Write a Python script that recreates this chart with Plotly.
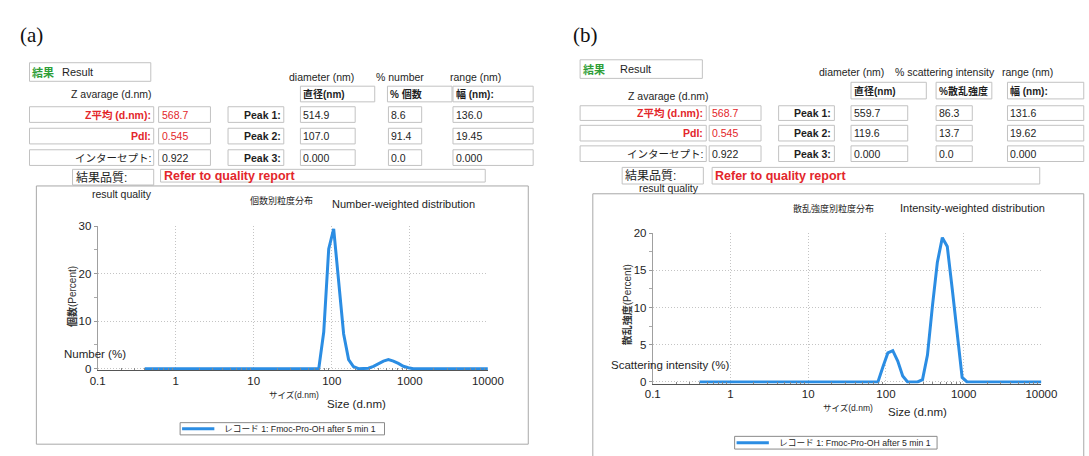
import plotly.graph_objects as go

# ---------------- data ----------------
size_a = [0.4, 68.06, 78.82, 91.28, 105.7, 122.4, 141.8, 164.2, 190.1, 220.2, 255.0,
          295.3, 342.0, 396.1, 458.7, 531.2, 615.1, 712.4, 825.0, 955.4, 1106, 10000]
number_pct = [0, 0, 7.7, 25.2, 29.4, 18.8, 7.3, 1.9, 0.4, 0, 0,
              0.1, 0.5, 1.1, 1.6, 1.9, 1.6, 1.1, 0.5, 0.2, 0, 0]

size_b = [0.4, 78.82, 91.28, 105.7, 122.4, 141.8, 164.2, 190.1, 220.2, 255.0,
          295.3, 342.0, 396.1, 458.7, 531.2, 615.1, 712.4, 825.0, 955.4, 1106, 10000]
intensity_pct = [0, 0, 2.0, 3.9, 4.2, 2.8, 0.8, 0, 0, 0,
                 0.3, 3.6, 10.2, 16.1, 19.4, 18.2, 12.5, 6.5, 0.6, 0, 0]

x_tick_vals = [0.1, 1, 10, 100, 1000, 10000]
x_tick_text = ["0.1", "1", "10", "100", "1000", "10000"]
y_ticks_a = [0, 10, 20, 30]
y_ticks_b = [0, 5, 10, 15, 20]

record_name = "レコード 1: Fmoc-Pro-OH after 5 min 1"

z_average = "568.7"
pdi = "0.545"
intercept = "0.922"
peak_labels = ["Peak 1:", "Peak 2:", "Peak 3:"]
peaks_a_diam = ["514.9", "107.0", "0.000"]
peaks_a_pct = ["8.6", "91.4", "0.0"]
peaks_a_range = ["136.0", "19.45", "0.000"]
peaks_b_diam = ["559.7", "119.6", "0.000"]
peaks_b_pct = ["86.3", "13.7", "0.0"]
peaks_b_range = ["131.6", "19.62", "0.000"]

# ---------------- helpers ----------------
W, H = 1089, 456
SANS = "Liberation Sans, Arial, Noto Sans CJK JP, sans-serif"
SERIF = "Liberation Serif, Times New Roman, serif"
RED = "#e3262b"
GREEN = "#2f9e38"
BLUE = "#2b8de3"
TXT = "#1e1e1e"


def px(x):
    return x / W


def py(y):
    return 1 - y / H


shapes = []
annotations = []


def box(x0, y0, x1, y1, color="#c2c2c2", width=1):
    shapes.append(dict(type="rect", xref="paper", yref="paper",
                       x0=px(x0), x1=px(x1), y0=py(y1), y1=py(y0),
                       line=dict(color=color, width=width),
                       fillcolor="rgba(0,0,0,0)", layer="below"))


def text(x, y, s, size=10.5, color=TXT, bold=False, anchor="left",
         family=SANS, angle=0):
    annotations.append(dict(x=px(x), y=py(y), xref="paper", yref="paper",
                            text=f"<b>{s}</b>" if bold else s, showarrow=False,
                            xanchor=anchor, yanchor="middle", textangle=angle,
                            borderpad=0,
                            font=dict(size=size, color=color, family=family)))


def legend_box(x0, y0, x1, y1, lx1, tx):
    shapes.append(dict(type="rect", xref="paper", yref="paper",
                       x0=px(x0), x1=px(x1), y0=py(y1), y1=py(y0),
                       line=dict(color="#8a8a8a", width=1), fillcolor="white",
                       layer="above"))
    ym = (y0 + y1) / 2
    shapes.append(dict(type="line", xref="paper", yref="paper",
                       x0=px(x0 + 2), x1=px(lx1), y0=py(ym), y1=py(ym),
                       line=dict(color=BLUE, width=3), layer="above"))
    text(tx, ym, record_name, size=8.7)


def table(g, diam, pct, rng, pct_header, col_heads):
    text(g["lab"][0], g["lab"][1], g["lab"][2], size=21, family=SERIF,
         anchor="center", color="#111")
    rx0, ry0, rx1, ry1 = g["result"]
    box(rx0, ry0, rx1, ry1)
    text(rx0 + 2, (ry0 + ry1) / 2, "結果", color=GREEN, size=11, bold=True)
    text(g["result_txt"], (ry0 + ry1) / 2, "Result", size=11)
    for (cx, s) in col_heads:
        text(cx, g["colhead_y"], s, size=10.5)
    text(g["zavg"][0], g["zavg"][1], "Z avarage (d.nm)", size=10.5)
    hy0, hy1 = g["head_y"]
    for (bx0, bx1), s in zip(g["head_boxes"], ["直径(nm)", pct_header, "幅 (nm):"]):
        box(bx0, hy0, bx1, hy1)
        text(bx0 + 2, (hy0 + hy1) / 2, s, size=10, bold=True)
    left_labels = [("Z平均 (d.nm):", RED, True), ("PdI:", RED, True),
                   ("インターセプト:", TXT, False)]
    left_vals = [(z_average, RED), (pdi, RED), (intercept, TXT)]
    c = g["cols"]
    for i, (y0, y1) in enumerate(g["rows"]):
        ym = (y0 + y1) / 2
        box(c["lab"][0], y0, c["lab"][1], y1)
        s, col, b = left_labels[i]
        text(c["lab"][1] - 2, ym, s, color=col, bold=b, anchor="right", size=10.5)
        box(c["val"][0], y0, c["val"][1], y1)
        text(c["val"][0] + 2, ym, left_vals[i][0], color=left_vals[i][1], size=10.5)
        box(c["peak"][0], y0, c["peak"][1], y1)
        text(c["peak"][1] - 2, ym, peak_labels[i], bold=True, anchor="right", size=10.5)
        box(c["diam"][0], y0, c["diam"][1], y1)
        text(c["diam"][0] + 2, ym, diam[i], size=10.5)
        box(c["pct"][0], y0, c["pct"][1], y1)
        text(c["pct"][0] + 2, ym, pct[i], size=10.5)
        box(c["rng"][0], y0, c["rng"][1], y1)
        text(c["rng"][0] + 2, ym, rng[i], size=10.5)
    q = g["qual"]
    box(q[0], q[1], q[2], q[3])
    text(q[0] + 2, (q[1] + q[3]) / 2, "結果品質:", size=12)
    r = g["refer"]
    box(r[0], r[1], r[2], r[3])
    text(r[0] + 2, (r[1] + r[3]) / 2, "Refer to quality report", color=RED,
         bold=True, size=12.5)
    text(g["rq"][0], g["rq"][1], "result quality", size=10.5)
    f = g["frame"]
    box(f[0], f[1], f[2], f[3], color="#a8a8a8")


geo_a = dict(
    lab=(24, 30, "(a)"),
    result=(22, 58, 146, 77), result_txt=54,
    colhead_y=73, zavg=(63, 90),
    head_y=(82, 98), head_boxes=[(299, 375), (388, 454), (455, 537)],
    rows=[(103, 119), (125, 141), (147, 163)],
    cols=dict(lab=(22, 149), val=(154, 207), peak=(225, 282), diam=(299, 355),
              pct=(389, 423), rng=(455, 537)),
    qual=(66, 167, 149, 183), refer=(156, 167, 488, 180),
    rq=(85, 192), frame=(29, 184, 532, 448),
)
geo_b = dict(
    lab=(591, 30, "(b)"),
    result=(585, 55, 710, 74), result_txt=625,
    colhead_y=67, zavg=(633, 92),
    head_y=(78, 95), head_boxes=[(862, 939), (949, 1006), (1022, 1100)],
    rows=[(102, 117), (122, 138), (143, 159)],
    cols=dict(lab=(585, 714), val=(717, 770), peak=(788, 845), diam=(862, 920),
              pct=(949, 986), rng=(1022, 1100)),
    qual=(628, 165, 711, 182), refer=(720, 165, 1055, 182),
    rq=(644, 186), frame=(598, 192, 1100, 470),
)

table(geo_a, peaks_a_diam, peaks_a_pct, peaks_a_range, "% 個数",
      [(286, "diameter (nm)"), (375, "% number"), (451, "range (nm)")])
table(geo_b, peaks_b_diam, peaks_b_pct, peaks_b_range, "%散乱強度",
      [(828, "diameter (nm)"), (906, "% scattering intensity"), (1015, "range (nm)")])

# chart texts (a)
text(246, 199, "個数別粒度分布", size=9)
text(330, 202, "Number-weighted distribution", size=11)
text(66, 297, "<b>個数</b>(Percent)", size=10, angle=-90, color="#333", anchor="center")
text(56, 356, "Number (%)", size=11.5)
text(266, 398, "サイズ(d.nm)", size=8.5)
text(325, 407, "Size (d.nm)", size=11.5)
# chart texts (b)
text(802, 207, "散乱強度別粒度分布", size=9)
text(911, 207, "Intensity-weighted distribution", size=11)
text(633, 306, "<b>散乱強度</b>(Percent)", size=10, angle=-90, color="#333", anchor="center")
text(616, 367, "Scattering intensity (%)", size=11.5)
text(832, 411, "サイズ(d.nm)", size=8.5)
text(899, 415, "Size (d.nm)", size=11.5)

legend_box(176, 426, 385, 438.5, 211, 220)
legend_box(743, 440, 950, 453, 778, 787)

# ---------------- figure ----------------
fig = go.Figure()
fig.add_trace(go.Scatter(x=size_a, y=number_pct, mode="lines", name=record_name,
                         line=dict(color=BLUE, width=3), xaxis="x", yaxis="y",
                         showlegend=False))
fig.add_trace(go.Scatter(x=size_b, y=intensity_pct, mode="lines", name=record_name,
                         line=dict(color=BLUE, width=3), xaxis="x2", yaxis="y2",
                         showlegend=False))

minor_x = [m * 10 ** e for e in range(-1, 4) for m in range(2, 10)]
GRID = "#c4c4c4"


def xaxis_cfg(domain, anchor):
    return dict(type="log", range=[-1, 4], domain=domain, anchor=anchor,
                tickvals=x_tick_vals, ticktext=x_tick_text, ticks="",
                showgrid=True, gridcolor=GRID, griddash="1px,2px", gridwidth=1,
                showline=True, linecolor="#555", linewidth=1, zeroline=False,
                tickfont=dict(size=11.5, family=SANS, color=TXT),
                minor=dict(ticks="inside", ticklen=2, tickcolor="#888",
                           tickmode="array", tickvals=minor_x, showgrid=False))


def yaxis_cfg(domain, anchor, rng, vals, minor_vals):
    return dict(range=rng, domain=domain, anchor=anchor, tickvals=vals,
                ticks="outside", ticklen=3, tickcolor="#999",
                showgrid=True, gridcolor=GRID, griddash="1px,2px", gridwidth=1,
                showline=True, linecolor="#a0a0a0", linewidth=1, zeroline=False,
                tickfont=dict(size=11.5, family=SANS, color=TXT),
                minor=dict(ticks="outside", ticklen=3, tickcolor="#aaa",
                           tickmode="array", tickvals=minor_vals, showgrid=False))


fig.update_layout(
    width=W, height=H, margin=dict(l=0, r=0, t=0, b=0),
    paper_bgcolor="white", plot_bgcolor="white",
    xaxis=xaxis_cfg([px(91.7), px(490.7)], "y"),
    yaxis=yaxis_cfg([py(372.5), py(225)], "x", [-0.35, 30], y_ticks_a, [5, 15, 25]),
    xaxis2=xaxis_cfg([px(659.3), px(1056.7)], "y2"),
    yaxis2=yaxis_cfg([py(386.0), py(232.3)], "x2", [-0.22, 20], y_ticks_b,
                     [2.5, 7.5, 12.5, 17.5]),
    shapes=shapes, annotations=annotations,
    showlegend=False,
)

fig.write_html("out.html",
               post_script="document.body.style.margin='0px';"
                           "document.documentElement.style.overflow='hidden';")
